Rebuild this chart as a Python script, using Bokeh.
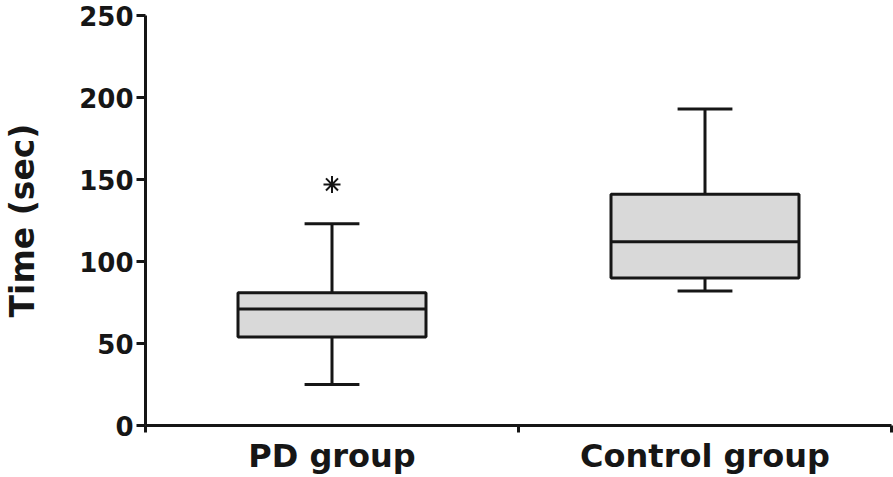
from bokeh.plotting import figure
from bokeh.models import Range1d, FixedTicker
from bokeh.embed import file_html
from bokeh.resources import INLINE

# ---- data ----
groups = ["PD group", "Control group"]
lower_whisker = [25, 82]
q1 = [54, 90]
median = [71, 112]
q3 = [81, 141]
upper_whisker = [123, 193]
outliers = [147, None]   # PD group outlier marked with *
y_ticks = [0, 50, 100, 150, 200, 250]

xs = [i + 0.5 for i in range(len(groups))]
box_w = 0.504
cap_w = 0.147

INK = "#161616"
FONT = "DejaVu Sans"

p = figure(width=893, height=477, output_backend="svg", toolbar_location=None,
           x_range=Range1d(0, len(groups)), y_range=Range1d(0, 250),
           min_border_left=145, min_border_top=15, min_border_right=2, min_border_bottom=10)
p.outline_line_color = None
p.xgrid.grid_line_color = None
p.ygrid.grid_line_color = None

# whiskers
p.segment(x0=xs, y0=q3, x1=xs, y1=upper_whisker, line_color=INK, line_width=3)
p.segment(x0=xs, y0=q1, x1=xs, y1=lower_whisker, line_color=INK, line_width=3)
# caps
p.segment(x0=[x - cap_w / 2 for x in xs], y0=upper_whisker,
          x1=[x + cap_w / 2 for x in xs], y1=upper_whisker, line_color=INK, line_width=3)
p.segment(x0=[x - cap_w / 2 for x in xs], y0=lower_whisker,
          x1=[x + cap_w / 2 for x in xs], y1=lower_whisker, line_color=INK, line_width=3)
# boxes
p.vbar(x=xs, width=box_w, bottom=q1, top=q3, fill_color="#d9d9d9",
       line_color=INK, line_width=3)
# medians
p.segment(x0=[x - box_w / 2 for x in xs], y0=median,
          x1=[x + box_w / 2 for x in xs], y1=median, line_color=INK, line_width=3)
# outliers
ox = [x for x, o in zip(xs, outliers) if o is not None]
oy = [o for o in outliers if o is not None]
p.scatter(x=ox, y=oy, marker="asterisk", size=17, line_color=INK, line_width=2)

# y axis
yax = p.yaxis[0]
yax.ticker = FixedTicker(ticks=y_ticks)
yax.axis_label = "Time (sec)"
yax.axis_label_text_font = FONT
yax.axis_label_text_font_style = "bold"
yax.axis_label_text_font_size = "33px"
yax.axis_label_text_color = INK
yax.axis_label_standoff = 34
yax.major_label_text_font = FONT
yax.major_label_text_font_style = "bold"
yax.major_label_text_font_size = "26px"
yax.major_label_text_color = INK
yax.major_label_standoff = 3
yax.axis_line_color = INK
yax.axis_line_width = 3
yax.major_tick_line_color = INK
yax.major_tick_line_width = 3
yax.major_tick_in = 0
yax.major_tick_out = 9
yax.minor_tick_line_color = None

# x axis: labels at group centres, ticks at group boundaries
xax = p.xaxis[0]
xax.ticker = FixedTicker(ticks=xs, minor_ticks=list(range(len(groups) + 1)))
xax.major_label_overrides = {x: g for x, g in zip(xs, groups)}
xax.major_label_text_font = FONT
xax.major_label_text_font_style = "bold"
xax.major_label_text_font_size = "32px"
xax.major_label_text_color = INK
xax.major_label_standoff = 4
xax.axis_line_color = INK
xax.axis_line_width = 3
xax.major_tick_in = 0
xax.major_tick_out = 0
xax.major_tick_line_color = None
xax.minor_tick_line_color = INK
xax.minor_tick_line_width = 3
xax.minor_tick_in = 0
xax.minor_tick_out = 7

open("out.html", "w").write(file_html(p, INLINE))
